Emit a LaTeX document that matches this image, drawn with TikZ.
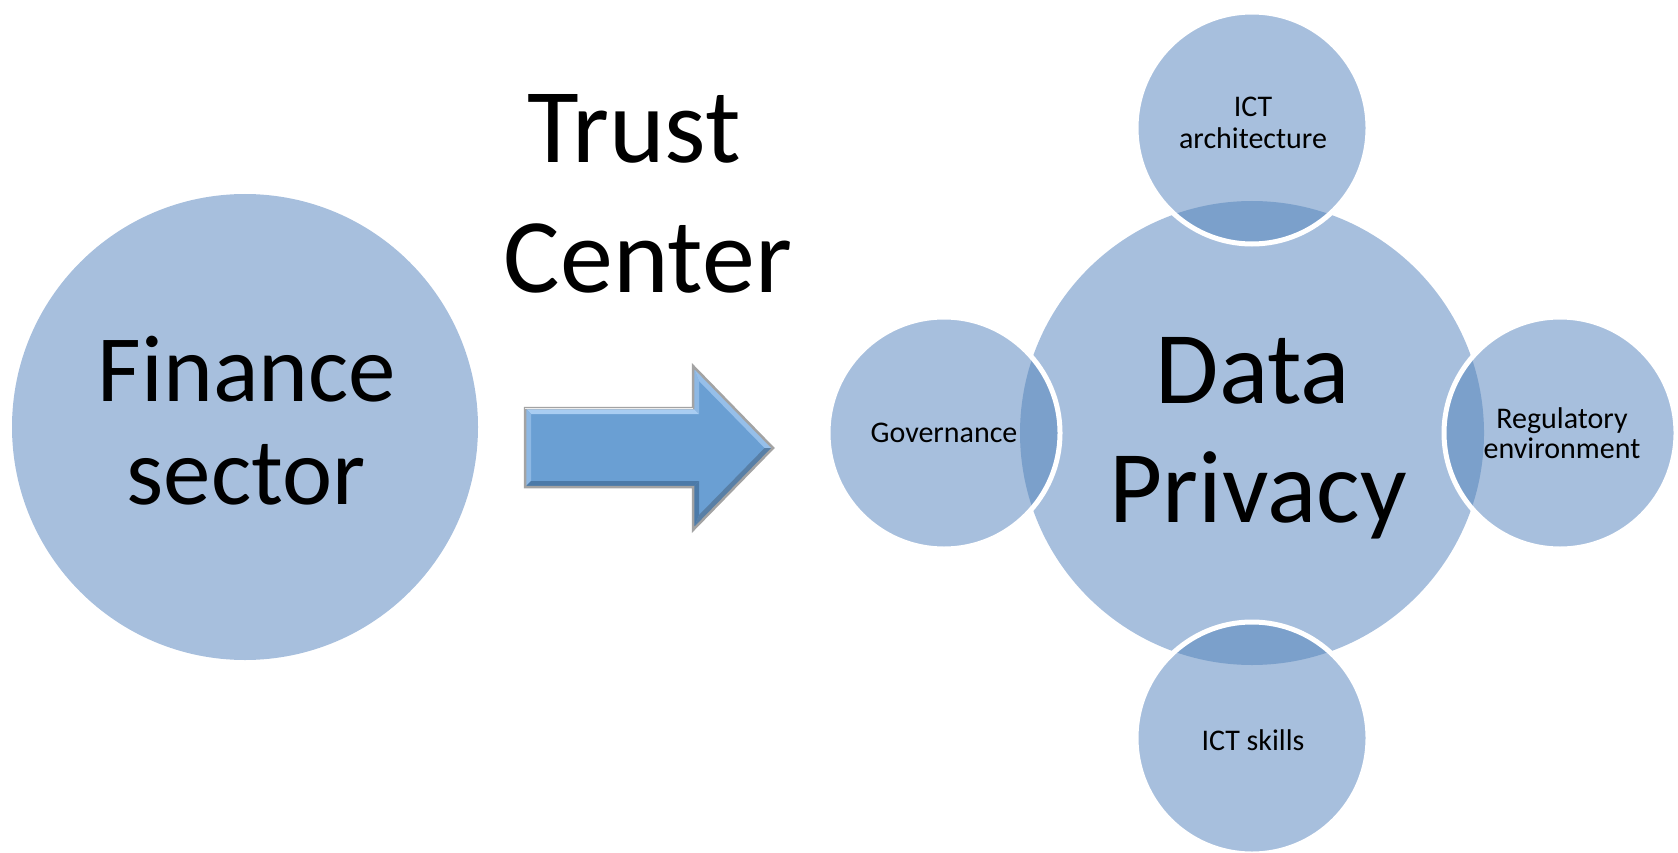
\documentclass[tikz,border=0pt]{standalone}
\usepackage{fontspec}
\setmainfont{Carlito}
\definecolor{circ}{HTML}{A7BFDD}
\definecolor{ovl}{HTML}{7BA0CB}
\definecolor{arr}{HTML}{6A9FD3}
\definecolor{bevlight}{HTML}{A9CDF2}
\definecolor{bevmid}{HTML}{8DB8E4}
\definecolor{bevdark}{HTML}{4C7AA8}
\definecolor{bevdarker}{HTML}{587FA6}
\definecolor{rimgrey}{HTML}{A3A3A3}
\begin{document}
\begin{tikzpicture}[x=1pt,y=-1pt,
  txt/.style={anchor=base,inner sep=0pt,text=black},
  bigtxt/.style={txt,font=\fontsize{106}{120}\selectfont},
  midtxt/.style={txt,font=\fontsize{95}{110}\selectfont},
  dptxt/.style={txt,font=\fontsize{103}{115}\selectfont},
  smalltxt/.style={txt,font=\fontsize{30}{34}\selectfont},
  satfill/.style={fill=circ},
  satrim/.style={draw=white,line width=5pt}]
\useasboundingbox (0,0) rectangle (1678,853);
% centres
\coordinate (fin) at (245,427);
\coordinate (dp) at (1252,433);
\coordinate (top) at (1252,128);
\coordinate (bot) at (1252,738);
\coordinate (lef) at (944,433);
\coordinate (rig) at (1560,433);
% big circles
\fill[circ] (fin) circle (233pt);
\fill[circ] (dp) circle (232pt);
% satellites
\foreach \s in {top,bot,lef,rig} {
  \fill[satfill] (\s) circle (116pt);
  \begin{scope}
    \clip (\s) circle (116pt);
    \fill[ovl] (dp) circle (232pt);
  \end{scope}
  \draw[satrim] (\s) circle (116pt);
}
% arrow
\coordinate (A) at (525,408);
\coordinate (B) at (693,408);
\coordinate (C) at (693,366);
\coordinate (D) at (773,448);
\coordinate (E) at (693,530);
\coordinate (F) at (693,487);
\coordinate (G) at (525,487);
\coordinate (A1) at (531,414);
\coordinate (B1) at (699,414);
\coordinate (C1) at (699,381);
\coordinate (D1) at (764.6,448);
\coordinate (E1) at (699,515);
\coordinate (F1) at (699,481);
\coordinate (G1) at (531,481);
\fill[arr] (A)--(B)--(C)--(D)--(E)--(F)--(G)--cycle;
\fill[bevlight] (A)--(B)--(B1)--(A1)--cycle;
\fill[bevmid] (G)--(A)--(A1)--(G1)--cycle;
\fill[bevdark] (F)--(G)--(G1)--(F1)--cycle;
\fill[bevmid] (B)--(C)--(C1)--(B1)--cycle;
\fill[bevlight!70!arr] (C)--(D)--(D1)--(C1)--cycle;
\fill[bevdarker] (D)--(E)--(E1)--(D1)--cycle;
\fill[bevdark] (E)--(F)--(F1)--(E1)--cycle;
\draw[rimgrey,line width=2.5pt,line join=miter] (A)--(B)--(C)--(D)--(E)--(F)--(G)--cycle;
\draw[white!80!rimgrey,line width=1pt] (A)--(B);
% texts
\node[bigtxt] (trust) at (634,163) {Trust};
\node[bigtxt] (center) at (648,292) {Center};
\node[midtxt] (finance) at (247,401) {Finance};
\node[midtxt] (sector) at (246,504) {sector};
\node[dptxt] (data) at (1253,403) {Data};
\node[dptxt] (privacy) at (1258,522) {Privacy};
\node[smalltxt] (ict) at (1253,117) {ICT};
\node[smalltxt] (arch) at (1253,149) {architecture};
\node[smalltxt] (gov) at (944,442) {Governance};
\node[smalltxt] (reg) at (1562,428) {Regulatory};
\node[smalltxt] (env) at (1562,458) {environment};
\node[smalltxt] (skills) at (1253,750) {ICT skills};
\end{tikzpicture}
\end{document}
